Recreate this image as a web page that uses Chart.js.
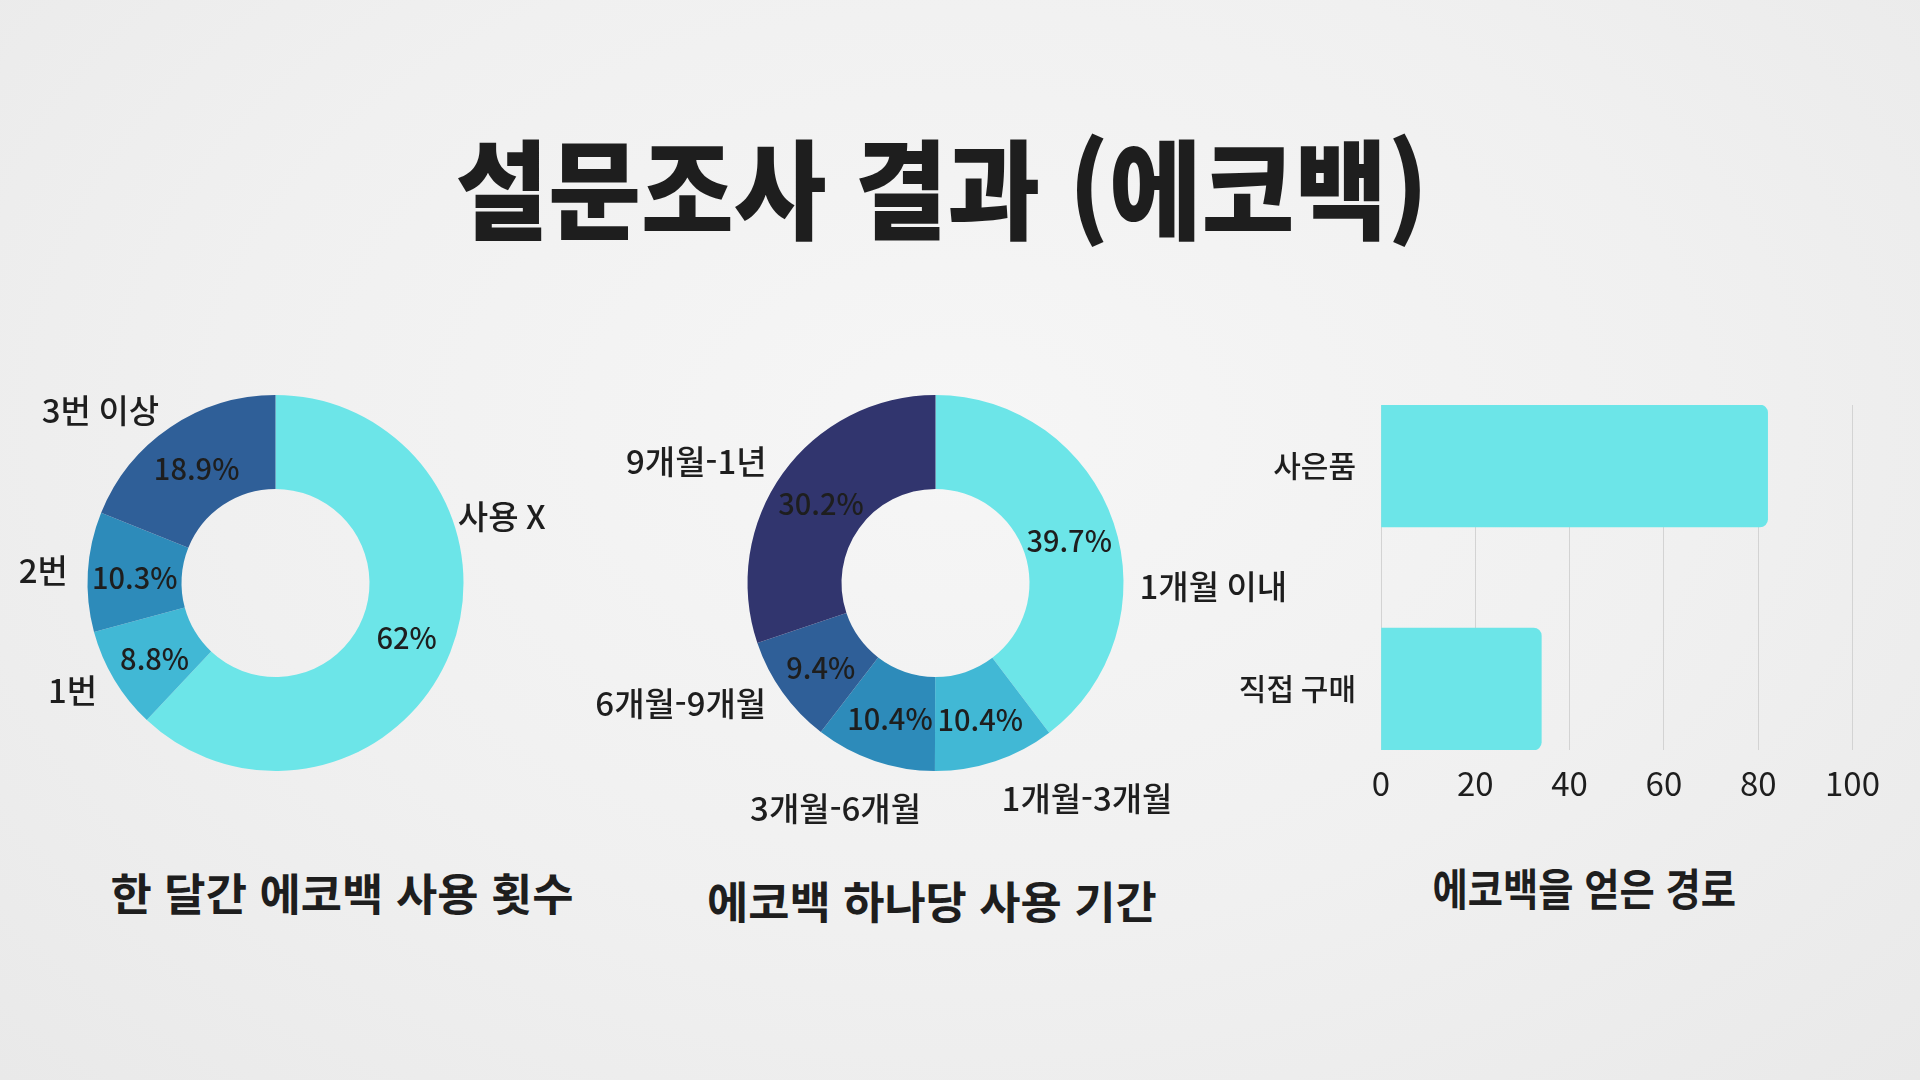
<!DOCTYPE html>
<html lang="ko">
<head>
<meta charset="utf-8">
<title>설문조사 결과 (에코백)</title>
<script src="https://cdn.jsdelivr.net/npm/chart.js@4.4.1/dist/chart.umd.min.js"></script>
<style>
  html, body { margin: 0; padding: 0; }
  body {
    width: 1920px; height: 1080px; overflow: hidden; position: relative;
    background: radial-gradient(ellipse at 50% 40%, #f6f6f6 0%, #f0f0f0 55%, #e9e9e9 100%);
    font-family: "Noto Sans CJK KR", "Noto Sans", sans-serif;
    color: #1e1e1e;
  }
  .txt { position: absolute; white-space: nowrap; line-height: 1; transform-origin: center center; }
  #title { font-size: 108px; font-weight: 900; }
  .sub { font-size: 44px; font-weight: 700; }
  canvas { position: absolute; }
</style>
</head>
<body>
<div class="txt" id="title">설문조사 결과 (에코백)</div>
<div class="txt sub" id="sub1">한 달간 에코백 사용 횟수</div>
<div class="txt sub" id="sub2">에코백 하나당 사용 기간</div>
<div class="txt sub" id="sub3">에코백을 얻은 경로</div>

<canvas id="usage" width="560" height="600" style="left:0px;top:283px"></canvas>
<canvas id="duration" width="740" height="600" style="left:560px;top:283px"></canvas>
<canvas id="source" width="700" height="470" style="left:1200px;top:360px"></canvas>

<script>
// 한 달간 에코백 사용 횟수
const usageLabels = ['사용 X', '1번', '2번', '3번 이상'];
const usageValues = [62, 8.8, 10.3, 18.9];

// 에코백 하나당 사용 기간
const durationLabels = ['1개월 이내', '1개월-3개월', '3개월-6개월', '6개월-9개월', '9개월-1년'];
const durationValues = [39.7, 10.4, 10.4, 9.4, 30.2];

// 에코백을 얻은 경로
const sourceLabels = ['사은품', '직접 구매'];
const sourceValues = [82, 34];

const CYAN = '#6ce5e8';
const blues = ['#6ce5e8', '#41b8d5', '#2d8bba', '#2f5f98', '#31356e'];
const FONT = '"Noto Sans CJK KR", "Noto Sans", sans-serif';
const INK = '#1e1e1e';

// title / subtitles: center x, center y, target width
const textLayout = {
  title: [941, 184, 972],
  sub1: [342, 892, 463],
  sub2: [932, 900, 450],
  sub3: [1584, 887, 303]
};

function placeText() {
  Object.keys(textLayout).forEach(id => {
    const el = document.getElementById(id);
    const [cx, cy, w] = textLayout[id];
    const nw = el.offsetWidth, nh = el.offsetHeight;
    el.style.left = (cx - nw / 2) + 'px';
    el.style.top = (cy - nh / 2) + 'px';
    el.style.transform = 'scaleX(' + (w / nw) + ')';
  });
}
placeText();

// percent inside ring + category name outside
const donutLabels = {
  id: 'donutLabels',
  afterDatasetsDraw(chart, args, opts) {
    const ctx = chart.ctx;
    const meta = chart.getDatasetMeta(0);
    const names = chart.data.labels;
    const vals = chart.data.datasets[0].data;
    const over = opts.overrides || {};
    ctx.save();
    ctx.fillStyle = INK;
    ctx.textBaseline = 'middle';
    meta.data.forEach((arc, i) => {
      const p = arc.tooltipPosition();
      ctx.font = '500 29px ' + FONT;
      ctx.textAlign = 'center';
      ctx.fillText(vals[i] + '%', p.x, p.y + 3);

      const o = over[names[i]] || {};
      const a = o.angle !== undefined ? o.angle * Math.PI / 180 : (arc.startAngle + arc.endAngle) / 2;
      const r = arc.outerRadius + (o.gap !== undefined ? o.gap : opts.gap);
      const x = arc.x + Math.cos(a) * r;
      let y = arc.y + Math.sin(a) * r;
      if (Math.sin(a) > 0.8) y += 18;
      ctx.font = '500 33px ' + FONT;
      ctx.textAlign = Math.cos(a) >= 0 ? 'left' : 'right';
      ctx.fillText(names[i], x, y);
    });
    ctx.restore();
  }
};

function donut(id, labels, values, padding, overrides) {
  return new Chart(document.getElementById(id), {
    type: 'doughnut',
    data: {
      labels: labels,
      datasets: [{ data: values, backgroundColor: blues.slice(0, values.length), borderWidth: 0, hoverOffset: 0 }]
    },
    options: {
      responsive: false,
      animation: false,
      cutout: '50%',
      layout: { padding: padding },
      plugins: {
        legend: { display: false },
        tooltip: { enabled: false },
        donutLabels: { gap: 20, overrides: overrides }
      }
    },
    plugins: [donutLabels]
  });
}

donut('usage', usageLabels, usageValues,
  { left: 87.5, right: 96.5, top: 112, bottom: 112 },
  { '사용 X': { angle: -20, gap: 6 } });

donut('duration', durationLabels, durationValues,
  { left: 187.5, right: 176.5, top: 112, bottom: 112 },
  { '1개월 이내': { angle: 1, gap: 16 }, '3개월-6개월': { angle: 94 } });

new Chart(document.getElementById('source'), {
  type: 'bar',
  data: {
    datasets: [{
      data: sourceValues.map((v, i) => ({ x: v, y: i })),
      backgroundColor: CYAN,
      borderRadius: 8,
      borderSkipped: 'start',
      barThickness: 122
    }]
  },
  options: {
    indexAxis: 'y',
    responsive: false,
    animation: false,
    layout: { padding: { top: 45, right: 47.5, left: 0, bottom: 0 } },
    scales: {
      x: {
        type: 'linear', min: 0, max: 100,
        ticks: { stepSize: 20, padding: 14, color: INK, font: { family: FONT, size: 33, weight: '400' } },
        grid: { color: '#d3d3d3', lineWidth: 1, drawTicks: false },
        border: { display: false },
        afterFit: s => { s.height = 80; }
      },
      y: {
        type: 'linear', reverse: true, offset: false, min: -0.2735, max: 1.2735,
        ticks: {
          stepSize: 1, includeBounds: false, padding: 25, color: INK,
          font: { family: FONT, size: 30, weight: '500' },
          callback: v => (sourceLabels[v] !== undefined ? sourceLabels[v] : '')
        },
        grid: { display: false, drawTicks: false, offset: false },
        border: { display: false },
        afterFit: s => { s.width = 181; }
      }
    },
    plugins: { legend: { display: false }, tooltip: { enabled: false } }
  }
});
</script>
</body>
</html>
